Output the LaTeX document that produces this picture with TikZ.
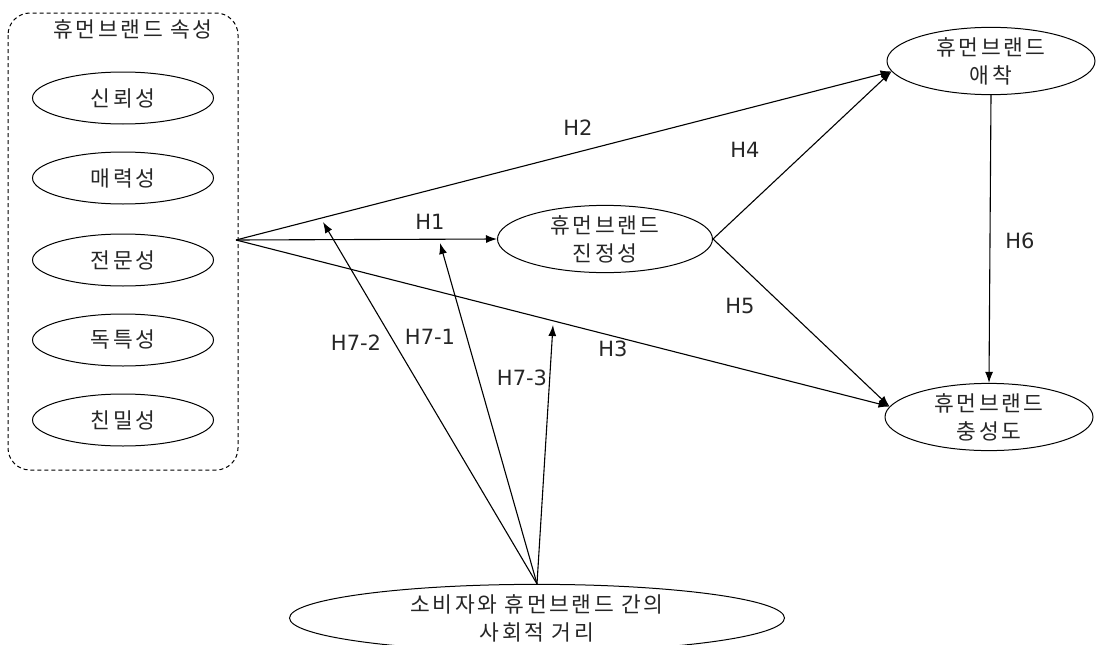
\documentclass[tikz,border=0pt]{standalone}
\usepackage{fontspec}
\setmainfont{DejaVu Sans}
\newfontfamily\krfont[LetterSpace=12]{Noto Sans CJK KR}
\usetikzlibrary{shapes.geometric,arrows.meta}
\begin{document}
\begin{tikzpicture}[x=1pt,y=-1pt,
  line width=1.1pt,
  krtext/.style={font=\krfont\fontsize{21.5}{28}\selectfont, text=black!85, align=center},
  oval/.style={ellipse, draw, line width=1pt, inner sep=0pt, krtext},
  hlabel/.style={font=\fontsize{21}{24}\selectfont, text=black!85},
  arr/.style={-{Latex[length=11pt,width=8pt]}},
  groupbox/.style={draw, dashed, dash pattern=on 4pt off 3pt, rounded corners=22pt, line width=1pt}
]
\useasboundingbox (0,0) rectangle (1098,645);

% attribute group
\draw[groupbox] (8,13) rectangle (238,470);
\node[krtext] (gtitle) at (133,29) {휴먼브랜드 속성};
\node[oval, minimum width=181pt, minimum height=52pt] (a1) at (123,98) {신뢰성};
\node[oval, minimum width=181pt, minimum height=52pt] (a2) at (123,178) {매력성};
\node[oval, minimum width=181pt, minimum height=52pt] (a3) at (123,260) {전문성};
\node[oval, minimum width=181pt, minimum height=52pt] (a4) at (123,340) {독특성};
\node[oval, minimum width=181pt, minimum height=52pt] (a5) at (123,420) {친밀성};

\coordinate (src) at (236,240);

% construct ellipses
\node[oval, minimum width=215pt, minimum height=62pt] (auth) at (605,239) {휴먼브랜드\\진정성};
\node[oval, minimum width=208pt, minimum height=58pt] (aff) at (991,61) {휴먼브랜드\\애착};
\node[oval, minimum width=208pt, minimum height=65pt] (loy) at (989,417) {휴먼브랜드\\충성도};
\node[oval, minimum width=495pt, minimum height=58pt] (dist) at (537,618) {소비자와 휴먼브랜드 간의\\사회적 거리};

% main paths
\draw[arr] (src) -- (auth.west);
\draw[arr] (src) -- (aff.186);
\draw[arr] (src) -- (loy.174);
\draw[arr] (auth.east) -- (aff.186);
\draw[arr] (auth.east) -- (loy.174);
\draw[arr] (aff.south) -- (loy.north);

% moderation paths
\coordinate (m2) at (323,222);
\coordinate (m1) at (440,243);
\coordinate (m3) at (553,325);
\draw[arr] (dist.north) -- (m2);
\draw[arr] (dist.north) -- (m1);
\draw[arr] (dist.north) -- (m3);

% labels
\node[hlabel] (lh1) at (430,222) {H1};
\node[hlabel] (lh2) at (578,128) {H2};
\node[hlabel] (lh3) at (613,349) {H3};
\node[hlabel] (lh4) at (745,150) {H4};
\node[hlabel] (lh5) at (740,306) {H5};
\node[hlabel] (lh6) at (1020,241) {H6};
\node[hlabel] (lh72) at (356,343) {H7-2};
\node[hlabel] (lh71) at (430,337) {H7-1};
\node[hlabel] (lh73) at (522,378) {H7-3};
\end{tikzpicture}
\end{document}
